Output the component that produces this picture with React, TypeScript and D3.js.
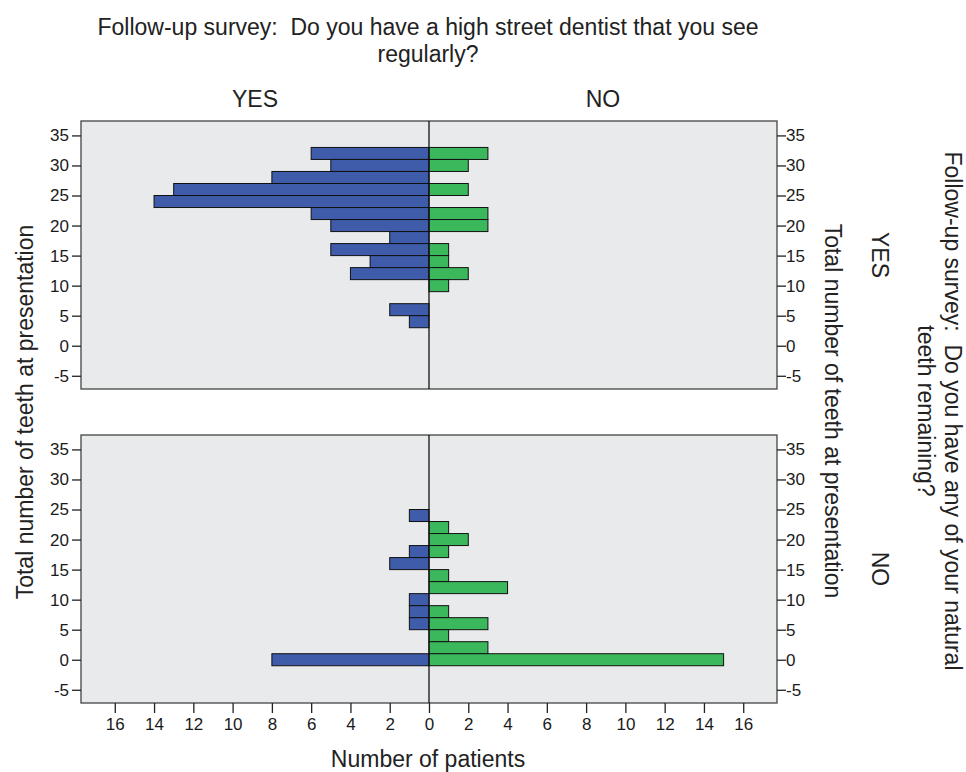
import React, { useRef, useEffect } from 'react'
import * as d3 from 'd3'

// bins are centred on even tooth counts, width 2
const binCenters = [32, 30, 28, 26, 24, 22, 20, 18, 16, 14, 12, 10, 8, 6, 4, 2, 0]

// panel "natural teeth remaining = YES"
const topDentistYes = [6, 5, 8, 13, 14, 6, 5, 2, 5, 3, 4, 0, 0, 2, 1, 0, 0]
const topDentistNo = [3, 2, 0, 2, 0, 3, 3, 0, 1, 1, 2, 1, 0, 0, 0, 0, 0]

// panel "natural teeth remaining = NO"
const bottomDentistYes = [0, 0, 0, 0, 1, 0, 0, 1, 2, 0, 0, 1, 1, 1, 0, 0, 8]
const bottomDentistNo = [0, 0, 0, 0, 0, 1, 2, 1, 0, 1, 4, 0, 1, 3, 1, 3, 15]

const yTicks = [-5, 0, 5, 10, 15, 20, 25, 30, 35]
const xTicks = [-16, -14, -12, -10, -8, -6, -4, -2, 0, 2, 4, 6, 8, 10, 12, 14, 16]

const FONT = 'Liberation Sans, Arial, sans-serif'
const BLUE = '#3f5cab'
const GREEN = '#3cb85c'
const PANEL_BG = '#e9eaec'

export default function App() {
    const svgRef = useRef<SVGSVGElement | null>(null)

    useEffect(() => {
        if (!svgRef.current) return
        const svg = d3.select(svgRef.current)
        svg.selectAll('*').remove()

        const left = 81, right = 777
        const panelH = 268
        const panels = [
            { top: 121, yes: topDentistYes, no: topDentistNo, label: 'YES' },
            { top: 435, yes: bottomDentistYes, no: bottomDentistNo, label: 'NO' },
        ]

        const x = d3.scaleLinear().domain([-17.72, 17.72]).range([left, right])
        const tickText = (a: any) => {
            a.attr('font-size', 17).attr('font-family', FONT)
            a.selectAll('text').attr('fill', '#1a1a1a').style('font-family', FONT).style('font-size', '17px')
        }

        panels.forEach(p => {
            const y = d3.scaleLinear().domain([-7.2, 37.4]).range([p.top + panelH, p.top])
            const g = svg.append('g')

            g.append('rect')
                .attr('x', left).attr('y', p.top)
                .attr('width', right - left).attr('height', panelH)
                .attr('fill', PANEL_BG)
                .attr('stroke', '#444').attr('stroke-width', 1.3)

            // bars: YES-dentist to the left, NO-dentist to the right
            binCenters.forEach((c, i) => {
                const y0 = y(c + 1), y1 = y(c - 1)
                if (p.yes[i] > 0) {
                    g.append('rect')
                        .attr('x', x(-p.yes[i])).attr('y', y0)
                        .attr('width', x(0) - x(-p.yes[i])).attr('height', y1 - y0)
                        .attr('fill', BLUE).attr('stroke', '#111').attr('stroke-width', 1)
                }
                if (p.no[i] > 0) {
                    g.append('rect')
                        .attr('x', x(0)).attr('y', y0)
                        .attr('width', x(p.no[i]) - x(0)).attr('height', y1 - y0)
                        .attr('fill', GREEN).attr('stroke', '#111').attr('stroke-width', 1)
                }
            })

            // zero line
            g.append('line')
                .attr('x1', x(0)).attr('x2', x(0))
                .attr('y1', p.top).attr('y2', p.top + panelH)
                .attr('stroke', '#111').attr('stroke-width', 1.3)

            // left / right axes
            g.append('g')
                .attr('transform', `translate(${left},0)`)
                .call(d3.axisLeft(y).tickValues(yTicks).tickSize(9).tickPadding(3).tickFormat(d => String(d)))
                .call(a => a.select('.domain').remove())
                .call(a => a.selectAll('line').attr('stroke', '#222').attr('stroke-width', 1.3))
                .call(tickText)

            g.append('g')
                .attr('transform', `translate(${right},0)`)
                .call(d3.axisRight(y).tickValues(yTicks).tickSize(9).tickPadding(0).tickFormat(d => String(d)))
                .call(a => a.select('.domain').remove())
                .call(a => a.selectAll('line').attr('stroke', '#222').attr('stroke-width', 1.3))
                .call(tickText)

            // row facet label
            svg.append('text')
                .attr('transform', `translate(872,${p.top + panelH / 2}) rotate(90)`)
                .attr('text-anchor', 'middle')
                .style('font-family', FONT).style('font-size', '23px').attr('fill', '#222')
                .text(p.label)
        })

        // bottom axis
        svg.append('g')
            .attr('transform', `translate(0,703)`)
            .call(d3.axisBottom(x).tickValues(xTicks).tickSize(10).tickPadding(5).tickFormat(d => String(Math.abs(+d))))
            .call(a => a.select('.domain').remove())
            .call(a => a.selectAll('line').attr('stroke', '#222').attr('stroke-width', 1.3))
            .call(tickText)

        const txt = (sel: any) => sel.style('font-family', FONT).style('font-size', '23px').attr('fill', '#222').attr('text-anchor', 'middle')

        // title
        svg.append('text').call(txt).attr('x', 428).attr('y', 35)
            .text('Follow-up survey:\u00a0\u00a0Do you have a high street dentist that you see')
        svg.append('text').call(txt).attr('x', 428).attr('y', 62).text('regularly?')

        // column facet labels
        svg.append('text').call(txt).attr('x', (left + x(0)) / 2).attr('y', 107).text('YES')
        svg.append('text').call(txt).attr('x', (x(0) + right) / 2).attr('y', 107).text('NO')

        // axis titles
        svg.append('text').call(txt).attr('x', 428).attr('y', 767).text('Number of patients')
        svg.append('text').call(txt).attr('transform', 'translate(33,412) rotate(-90)')
            .text('Total number of teeth at presentation')
        svg.append('text').call(txt).attr('transform', 'translate(825,411) rotate(90)')
            .text('Total number of teeth at presentation')

        // row facet title
        svg.append('text').call(txt).attr('transform', 'translate(945,411) rotate(90)')
            .text('Follow-up survey:\u00a0\u00a0Do you have any of your natural')
        svg.append('text').call(txt).attr('transform', 'translate(918,411) rotate(90)')
            .text('teeth remaining?')
    }, [])

    return (
        <div style={{ position: 'absolute', left: 0, top: 0, width: 966, height: 772, background: '#fff' }}>
            <svg ref={svgRef} width={966} height={772} style={{ display: 'block' }} />
        </div>
    )
}
